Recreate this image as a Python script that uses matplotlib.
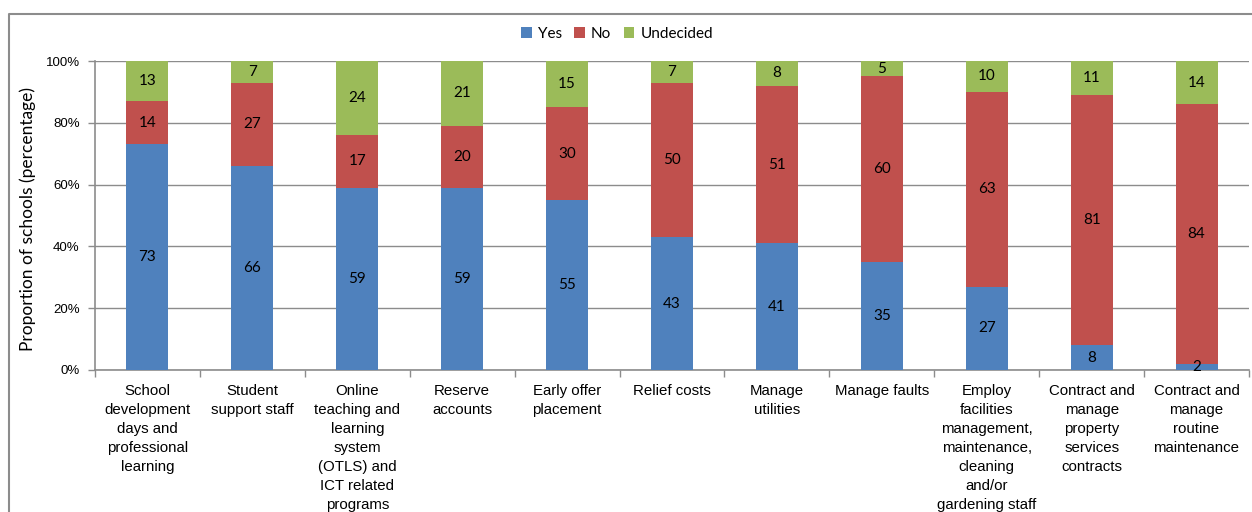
import matplotlib
matplotlib.use("Agg")
import matplotlib.pyplot as plt
from matplotlib.lines import Line2D
import numpy as np

categories = [
    "School\ndevelopment\ndays and\nprofessional\nlearning",
    "Student\nsupport staff",
    "Online\nteaching and\nlearning\nsystem\n(OTLS) and\nICT related\nprograms",
    "Reserve\naccounts",
    "Early offer\nplacement",
    "Relief costs",
    "Manage\nutilities",
    "Manage faults",
    "Employ\nfacilities\nmanagement,\nmaintenance,\ncleaning\nand/or\ngardening staff",
    "Contract and\nmanage\nproperty\nservices\ncontracts",
    "Contract and\nmanage\nroutine\nmaintenance",
]
yes = [73, 66, 59, 59, 55, 43, 41, 35, 27, 8, 2]
no = [14, 27, 17, 20, 30, 50, 51, 60, 63, 81, 84]
undecided = [13, 7, 24, 21, 15, 7, 8, 5, 10, 11, 14]
series_names = ["Yes", "No", "Undecided"]
colors = ["#4F81BD", "#C0504D", "#9BBB59"]
yticks = [0, 20, 40, 60, 80, 100]

W, H = 1252, 512
fig = plt.figure(figsize=(W / 100, H / 100), dpi=100)
ax = fig.add_axes([95 / W, 1 - 370 / H, (1249 - 95) / W, (370 - 61) / H])

x = np.arange(len(categories))
bottom = np.zeros(len(categories))
label_font = dict(family=["Lato", "DejaVu Sans"], fontsize=11, color="black")
for vals, name, c in zip([yes, no, undecided], series_names, colors):
    vals = np.array(vals, dtype=float)
    ax.bar(x, vals, 0.4, bottom=bottom, color=c, label=name, zorder=3)
    for xi, b, v in zip(x, bottom, vals):
        ax.text(xi, b + v / 2, f"{int(v)}", ha="center", va="center", zorder=4, **label_font)
    bottom += vals

ax.set_xlim(-0.5, len(categories) - 0.5)
ax.set_ylim(0, 100)
ax.set_yticks(yticks)
ax.set_yticklabels([f"{t}%" for t in yticks], family="Liberation Sans", fontsize=9.5)
ax.yaxis.grid(True, color="#8C8C8C", linewidth=1.0, zorder=0)
ax.tick_params(axis="y", length=5, color="#8C8C8C", width=1, pad=6)

ax.set_xticks(np.arange(-0.5, len(categories), 1.0))
ax.set_xticklabels([])
ax.set_xticks(x, minor=True)
ax.set_xticklabels(categories, minor=True, family="Liberation Sans", fontsize=10.8, linespacing=1.45)
ax.tick_params(axis="x", which="major", length=5, color="#8C8C8C", width=1)
ax.tick_params(axis="x", which="minor", length=0, pad=10)

for s in ["top", "right"]:
    ax.spines[s].set_visible(False)
for s in ["left", "bottom"]:
    ax.spines[s].set_color("#8C8C8C")
    ax.spines[s].set_linewidth(1.2)

ax.set_ylabel("Proportion of schools (percentage)", family="Lato", fontsize=12.5)
ax.yaxis.set_label_coords(-(95 - 36) / (1249 - 95), 0.49)

leg = fig.legend(loc="center", bbox_to_anchor=(617 / W, 1 - 34 / H), ncol=3, frameon=False,
                 prop={"family": "Lato", "size": 11}, handlelength=0.7, handleheight=0.7,
                 handletextpad=0.4, columnspacing=0.8)

# outer chart border
fig.add_artist(Line2D([9 / W, 9 / W, 1.01], [-0.01, 1 - 14 / H, 1 - 14 / H],
                      transform=fig.transFigure, color="#8C8C8C", linewidth=1.5))

fig.savefig("out.png", dpi=100)
